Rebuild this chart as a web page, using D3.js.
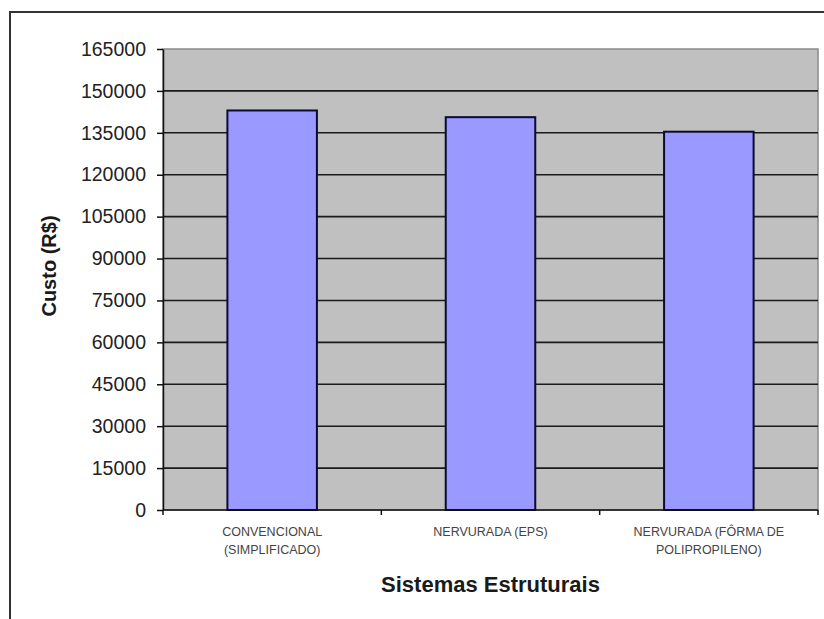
<!DOCTYPE html>
<html lang="pt">
<head>
<meta charset="UTF-8">
<title>Custo por sistema estrutural</title>
<script src="https://cdn.jsdelivr.net/npm/d3@7"></script>
<style>
  body { margin: 0; background: #fff; }
  svg { display: block; font-family: "Liberation Sans", Arial, sans-serif; }
</style>
</head>
<body>
<div id="chart"></div>
<script>
// data
var categories = ["CONVENCIONAL (SIMPLIFICADO)", "NERVURADA (EPS)", "NERVURADA (FÔRMA DE POLIPROPILENO)"];
var categoryLines = [["CONVENCIONAL", "(SIMPLIFICADO)"], ["NERVURADA (EPS)"], ["NERVURADA (FÔRMA DE", "POLIPROPILENO)"]];
var custo = [143000, 140600, 135400];
var yTicks = [0, 15000, 30000, 45000, 60000, 75000, 90000, 105000, 120000, 135000, 150000, 165000];

var W = 824, H = 619;
var margin = {top: 49, right: 6, bottom: 109, left: 163};
var width = W - margin.left - margin.right;
var height = H - margin.top - margin.bottom;

var svg = d3.select("#chart").append("svg")
    .attr("width", W)
    .attr("height", H);

// outer frame (only top and left edges are visible in the picture)
svg.append("path")
    .attr("d", "M10," + H + "V12H" + W)
    .attr("fill", "none")
    .attr("stroke", "#333")
    .attr("stroke-width", 2);

var g = svg.append("g")
    .attr("transform", "translate(" + margin.left + "," + margin.top + ")");

var x = d3.scaleBand()
    .domain(categories)
    .range([0, width])
    .paddingInner(0.59)
    .paddingOuter(0.295);

var y = d3.scaleLinear()
    .domain([0, 165000])
    .range([height, 0]);

// plot area
g.append("rect")
    .attr("width", width)
    .attr("height", height)
    .attr("fill", "#c0c0c0")
    .attr("stroke", "#8a8a8a")
    .attr("stroke-width", 1.5);

// gridlines
g.selectAll("line.grid")
    .data(yTicks.filter(function(d) { return d > 0 && d < 165000; }))
    .enter().append("line")
    .attr("class", "grid")
    .attr("x1", 0)
    .attr("x2", width)
    .attr("y1", function(d) { return y(d); })
    .attr("y2", function(d) { return y(d); })
    .attr("stroke", "#1a1a1a")
    .attr("stroke-width", 1.6);

// bars
g.selectAll("rect.bar")
    .data(custo)
    .enter().append("rect")
    .attr("class", "bar")
    .attr("x", function(d, i) { return x(categories[i]); })
    .attr("width", x.bandwidth())
    .attr("y", function(d) { return y(d); })
    .attr("height", function(d) { return height - y(d); })
    .attr("fill", "#9999ff")
    .attr("stroke", "#0a0a33")
    .attr("stroke-width", 2);

// y axis
var yAxis = g.append("g")
    .call(d3.axisLeft(y).tickValues(yTicks).tickFormat(d3.format("d"))
        .tickSize(6).tickSizeOuter(0).tickPadding(11));
yAxis.select(".domain").attr("stroke", "#111").attr("stroke-width", 1.5);
yAxis.selectAll(".tick line").attr("stroke", "#111").attr("stroke-width", 1.5);
yAxis.selectAll(".tick text")
    .attr("font-size", 19.5)
    .attr("font-family", "Liberation Sans, Arial, sans-serif")
    .attr("fill", "#222");

// x axis: tick marks at band boundaries
var step = x.step();
var boundaries = d3.range(categories.length + 1).map(function(i) { return i * step; });
g.append("line")
    .attr("x1", 0).attr("x2", width)
    .attr("y1", height).attr("y2", height)
    .attr("stroke", "#111").attr("stroke-width", 1.5);
g.selectAll("line.xtick")
    .data(boundaries)
    .enter().append("line")
    .attr("class", "xtick")
    .attr("x1", function(d) { return d; })
    .attr("x2", function(d) { return d; })
    .attr("y1", height)
    .attr("y2", height + 5)
    .attr("stroke", "#111").attr("stroke-width", 1.5);

// category labels
var labels = g.selectAll("text.cat")
    .data(categoryLines)
    .enter().append("text")
    .attr("class", "cat")
    .attr("text-anchor", "middle")
    .attr("font-size", 12.5)
    .attr("fill", "#444")
    .attr("transform", function(d, i) {
        return "translate(" + (x(categories[i]) + x.bandwidth() / 2) + "," + (height + 26) + ")";
    });
labels.selectAll("tspan")
    .data(function(d) { return d; })
    .enter().append("tspan")
    .attr("x", 0)
    .attr("y", function(d, i) { return i * 18; })
    .text(function(d) { return d; });

// axis titles
g.append("text")
    .attr("text-anchor", "middle")
    .attr("x", width / 2)
    .attr("y", height + 82)
    .attr("font-size", 22)
    .attr("font-weight", "bold")
    .attr("fill", "#1a1a1a")
    .text("Sistemas Estruturais");

svg.append("text")
    .attr("text-anchor", "middle")
    .attr("transform", "translate(56," + 266 + ") rotate(-90)")
    .attr("font-size", 20)
    .attr("font-weight", "bold")
    .attr("fill", "#1a1a1a")
    .text("Custo (R$)");
</script>
</body>
</html>
